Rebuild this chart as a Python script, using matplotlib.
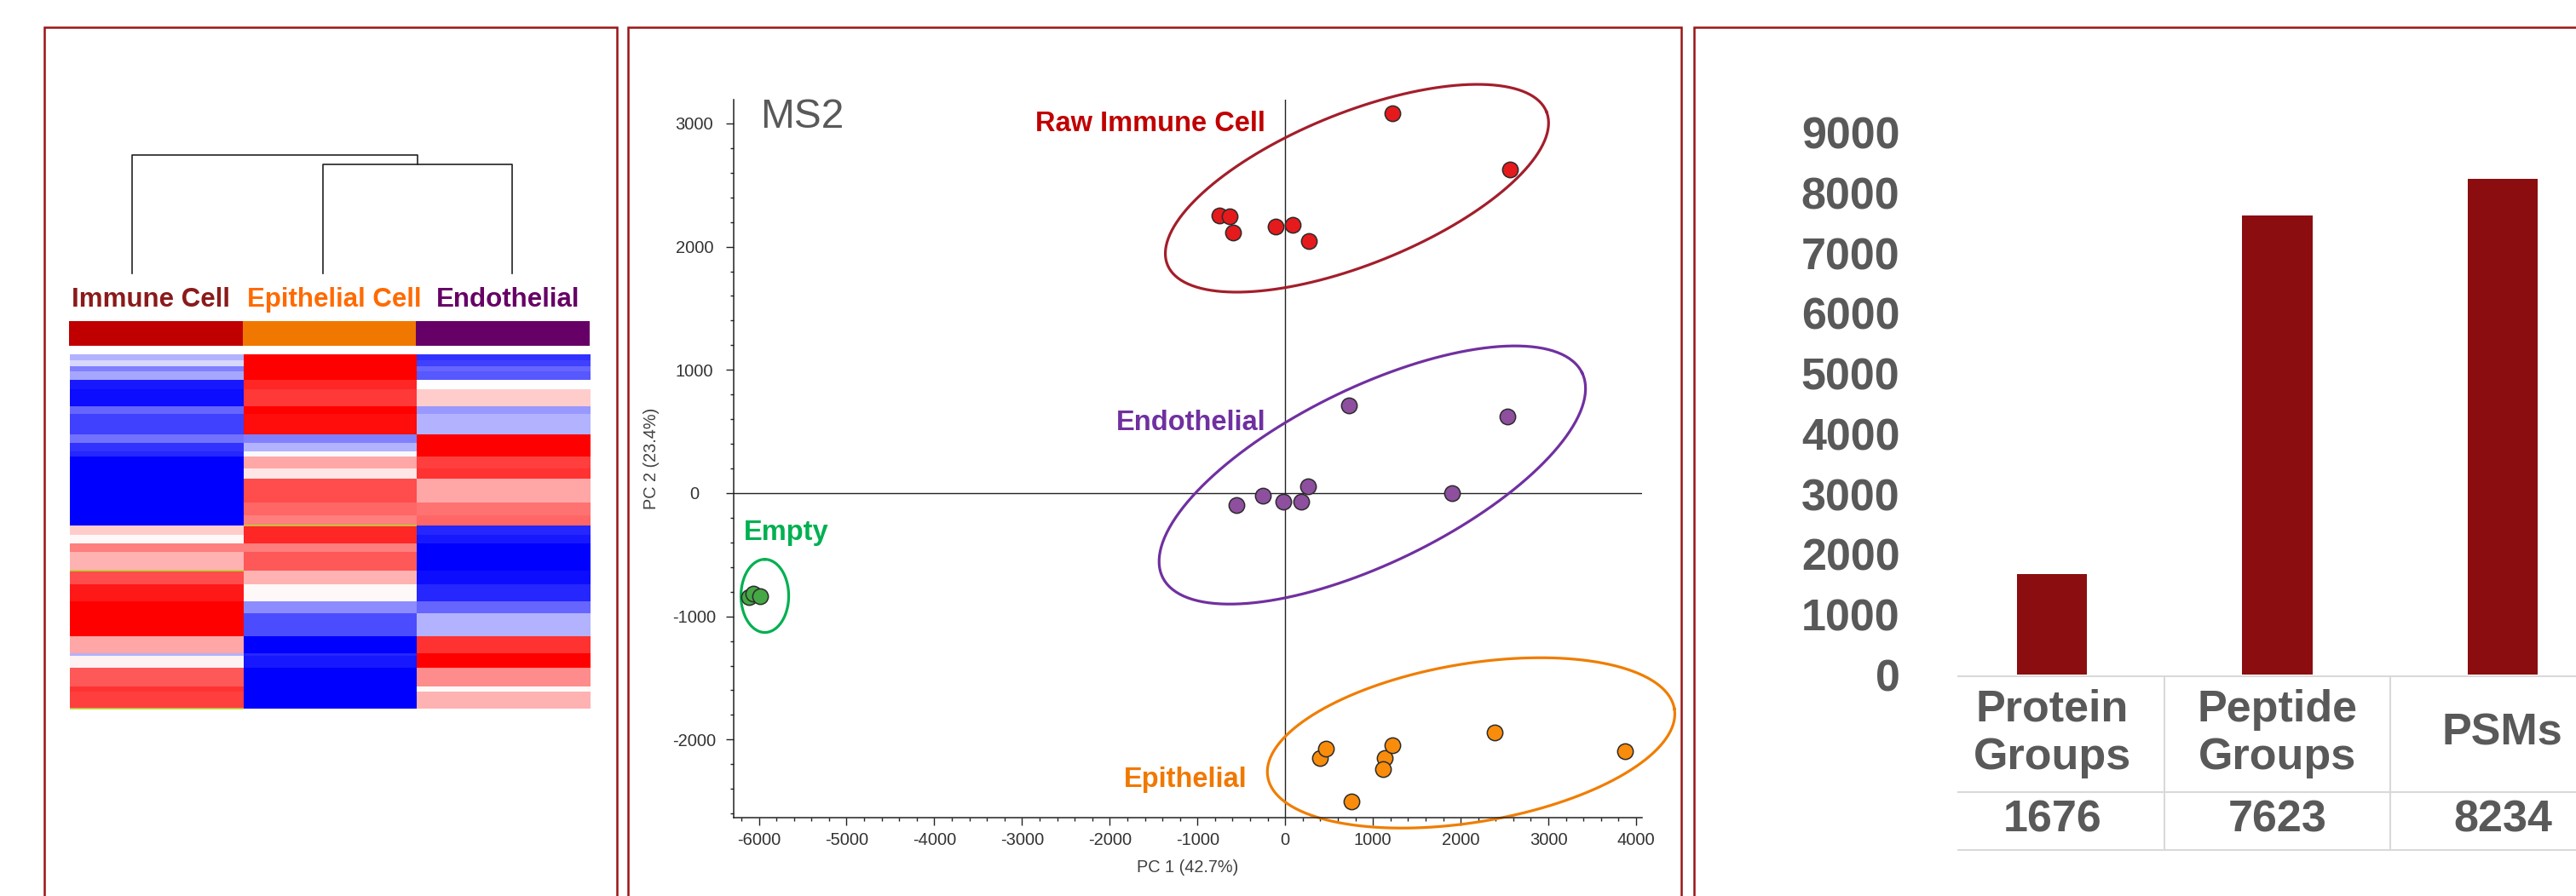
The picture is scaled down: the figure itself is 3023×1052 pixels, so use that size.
import numpy as np
import matplotlib
matplotlib.use('Agg')
import matplotlib.pyplot as plt
from matplotlib.patches import Rectangle
from matplotlib.ticker import MultipleLocator

plt.rcParams['font.family'] = ['Liberation Sans', 'DejaVu Sans']
plt.rcParams['axes.unicode_minus'] = False

W, H = 3023, 1052
DPI = 100

# ---- heatmap data (rows = genes, top to bottom) ----
group_names = ['Immune Cell', 'Epithelial Cell', 'Endothelial']
group_label_colors = ['#8B1A1A', '#FF6A00', '#660066']
group_bar_colors = ['#C00000', '#F07800', '#660066']
row_edges = [0, 7, 14, 20, 30, 41, 61, 70, 94, 104, 114, 120, 134, 146, 174, 189,
             201, 212, 222, 232, 254, 270, 290, 304, 331, 351, 354, 368, 390, 396, 416]
immune_vals = [-0.3, -0.15, -0.5, -0.35, -0.9, -0.95, -0.6, -0.75, -0.55, -0.8,
               -0.85, -1.0, -1.0, -1.0, -1.0, -1.0, 0.2, 0.03, 0.5, 0.3,
               0.7, 0.9, 1.0, 1.0, 0.35, -0.3, 0.05, 0.65, 0.8, 0.75]
epithelial_vals = [1.0, 1.0, 1.0, 1.0, 0.85, 0.78, 1.0, 0.95, -0.5, -0.3,
                   -0.03, 0.35, 0.1, 0.7, 0.6, 0.5, 0.85, 0.85, 0.5, 0.65,
                   0.3, 0.03, -0.45, -0.7, -1.0, -0.85, -0.9, -1.0, -1.0, -1.0]
endothelial_vals = [-0.8, -0.75, -0.6, -0.65, 0.0, 0.2, -0.4, -0.3, 1.0, 1.0,
                    1.0, 0.75, 0.8, 0.35, 0.55, 0.6, -0.85, -0.9, -1.0, -1.0,
                    -0.95, -0.85, -0.6, -0.3, 0.8, 1.0, 1.0, 0.45, 0.02, 0.3]
dendro_leaf_x = [0.36, 1.46, 2.55]
dendro_heights = [0.92, 1.0]

# ---- PCA scores ----
immune_pc1 = [-754, -638, -592, -111, 81, 272, 1218, 2563]
immune_pc2 = [2256, 2245, 2113, 2164, 2175, 2048, 3083, 2629]
endo_pc1 = [-559, -252, -17, 180, 258, 722, 1902, 2531]
endo_pc2 = [-100, -21, -68, -68, 57, 715, 1, 622]
empty_pc1 = [-6110, -6062, -5987]
empty_pc2 = [-845, -815, -834]
epi_pc1 = [401, 466, 1136, 1217, 1119, 753, 2385, 3877]
epi_pc2 = [-2152, -2072, -2150, -2047, -2242, -2505, -1943, -2097]

# ---- identification counts ----
bar_labels = ['Protein\nGroups', 'Peptide\nGroups', 'PSMs']
bar_counts = [1676, 7623, 8234]


def px_box(x0, y0, x1, y1):
    return [x0 / W, 1 - y1 / H, (x1 - x0) / W, (y1 - y0) / H]


def draw_ellipse(ax, cx, cy, a, b, angle, color):
    # a, b given in x-data units, angle measured on screen
    bb = ax.get_position()
    x0, x1 = ax.get_xlim()
    y0, y1 = ax.get_ylim()
    sx = bb.width * W / (x1 - x0)
    sy = bb.height * H / (y1 - y0)
    t = np.linspace(0, 2 * np.pi, 300)
    th = np.deg2rad(angle)
    dx = a * np.cos(t) * np.cos(th) - b * np.sin(t) * np.sin(th)
    dy = a * np.cos(t) * np.sin(th) + b * np.sin(t) * np.cos(th)
    ax.plot(cx + dx, cy + dy * sx / sy, color=color, lw=2.3, zorder=2, clip_on=False)


fig = plt.figure(figsize=(W / DPI, H / DPI), dpi=DPI)

# panel frames
for x0, x1 in [(52, 724), (736.5, 1973), (1988, 3120)]:
    fig.add_artist(Rectangle((x0 / W, 1 - 1120 / H), (x1 - x0) / W, (1120 - 32) / H,
                             transform=fig.transFigure, fill=False,
                             ec='#9B1414', lw=1.8, clip_on=False))

# ================= heatmap =================
ax_hm = fig.add_axes(px_box(82, 416, 693, 832))
hm = np.array([immune_vals, epithelial_vals, endothelial_vals]).T
ax_hm.pcolormesh([0, 1, 2, 3], row_edges, hm, cmap='bwr', vmin=-1, vmax=1)
ax_hm.set_xlim(0, 3)
ax_hm.set_ylim(416, 0)
ax_hm.hlines([201], [1], [2], color='#B8D432', lw=1.2)
ax_hm.hlines([254, 415.5], [0, 0], [1, 1], color='#B8D432', lw=1.2, clip_on=False)
ax_hm.axis('off')

ax_band = fig.add_axes(px_box(81, 377, 692, 406))
ax_band.bar([0.5, 1.5, 2.5], [1, 1, 1], width=1, color=group_bar_colors)
ax_band.set_xlim(0, 3)
ax_band.set_ylim(0, 1)
ax_band.axis('off')
label_x = [0.47, 1.53, 2.53]
for i, name in enumerate(group_names):
    ax_band.text(label_x[i], 1.586, name, transform=ax_band.get_xaxis_transform(),
                 ha='center', va='baseline', fontsize=22.5, fontweight='bold',
                 color=group_label_colors[i])

ax_dn = fig.add_axes(px_box(82, 182, 693, 321))
ax_dn.set_xlim(0, 3)
ax_dn.set_ylim(0, 1)
ax_dn.axis('off')
la, lb, lc = dendro_leaf_x
h1, h2 = dendro_heights
mid = (lb + lc) / 2
ax_dn.plot([lb, lb, lc, lc], [0, h1, h1, 0], color='#222222', lw=1.2, clip_on=False)
ax_dn.plot([la, la, mid, mid], [0, h2, h2, h1], color='#222222', lw=1.2, clip_on=False)

# ================= PCA =================
ax = fig.add_axes(px_box(860.7, 116.7, 1927.2, 959.5))
ax.set_xlim(-6290, 4070)
ax.set_ylim(-2630, 3195)
for s in ['top', 'right']:
    ax.spines[s].set_visible(False)
for s in ['left', 'bottom']:
    ax.spines[s].set_linewidth(1.1)
    ax.spines[s].set_color('#222222')
ax.axhline(0, color='#222222', lw=1.0, zorder=1)
ax.axvline(0, color='#222222', lw=1.0, zorder=1)

draw_ellipse(ax, 818, 2474, 2330, 864, 22, '#A31E2B')
draw_ellipse(ax, 993, 147, 2660, 1000, 26, '#7030A0')
draw_ellipse(ax, 2119, -2027, 2350, 903, 9.5, '#F07D00')
draw_ellipse(ax, -5932, -834, 417, 272, 90, '#00B050')

mk = dict(marker='o', ls='none', ms=13.2, mec='#2B2B2B', mew=1.1, zorder=3)
ax.plot(immune_pc1, immune_pc2, mfc='#E41A1C', **mk)
ax.plot(endo_pc1, endo_pc2, mfc='#8E4F9F', **mk)
ax.plot(empty_pc1, empty_pc2, mfc='#45A845', **mk)
ax.plot(epi_pc1, epi_pc2, mfc='#F98C0B', **mk)

lab = dict(va='baseline', fontsize=23.5, fontweight='bold')
ax.text(-223, 2937, 'Raw Immune Cell', ha='right', color='#C00000', **lab)
ax.text(-223, 513, 'Endothelial', ha='right', color='#7030A0', **lab)
ax.text(-6175, -378, 'Empty', ha='left', color='#00B050', **lab)
ax.text(-1835, -2387, 'Epithelial', ha='left', color='#F07800', **lab)
ax.text(-5981, 2965, 'MS2', ha='left', va='baseline', fontsize=34.5, color='#595959')

ax.xaxis.set_major_locator(MultipleLocator(1000))
ax.xaxis.set_minor_locator(MultipleLocator(200))
ax.yaxis.set_major_locator(MultipleLocator(1000))
ax.yaxis.set_minor_locator(MultipleLocator(200))
ax.tick_params(which='major', direction='out', length=6.5, width=1.0, color='#222222',
               labelsize=14.5, labelcolor='#333333')
ax.tick_params(which='minor', direction='out', length=2.9, width=1.0, color='#222222')
ax.tick_params(axis='x', which='major', pad=6)
ax.tick_params(axis='y', which='major', pad=26.4)
ax.set_xticks(range(-6000, 4001, 1000))
ax.set_yticks(range(-2000, 3001, 1000))
for lbl in ax.get_yticklabels():
    lbl.set_horizontalalignment('center')
ax.set_xlabel('PC 1 (42.7%)', fontsize=14.3, color='#404040')
ax.set_ylabel('PC 2 (23.4%)', fontsize=14.3, color='#404040')
ax.xaxis.set_label_coords(0.5, -0.0701)
ax.yaxis.set_label_coords(-0.0899, 0.5)
ax.xaxis.label.set_va('center')
ax.yaxis.label.set_va('center')

# ================= bar chart + data table =================
axb = fig.add_axes(px_box(2276, 155.6, 3069, 792.4))
xs = np.arange(len(bar_counts))
axb.bar(xs, bar_counts, width=0.312, color='#8B0D10')
axb.set_xlim(-0.5, 2.5)
axb.set_ylim(0, 9000)
for s in axb.spines.values():
    s.set_visible(False)
axb.set_xticks([])
axb.set_yticks(range(0, 9001, 1000))
axb.tick_params(axis='y', length=0, pad=33.5, labelsize=37.5, labelcolor='#595959')
for lbl in axb.get_yticklabels():
    lbl.set_fontweight('bold')

tr = axb.get_xaxis_transform()
grid_c = '#D9D9D9'
for yf in [-0.002, -0.216, -0.3233]:
    axb.plot([-0.4175, 2.7], [yf, yf], color=grid_c, lw=1.5, transform=tr, clip_on=False)
for xv in [0.5, 1.5, 2.5]:
    axb.plot([xv, xv], [-0.002, -0.3233], color=grid_c, lw=1.5, transform=tr, clip_on=False)
for i in xs:
    axb.text(i, -0.1085, bar_labels[i], transform=tr, ha='center', va='center',
             fontsize=37.5, fontweight='bold', color='#595959', linespacing=1.2)
    axb.text(i, -0.2685, str(bar_counts[i]), transform=tr, ha='center', va='center',
             fontsize=37.5, fontweight='bold', color='#595959')

fig.savefig('out.png', dpi=DPI)
